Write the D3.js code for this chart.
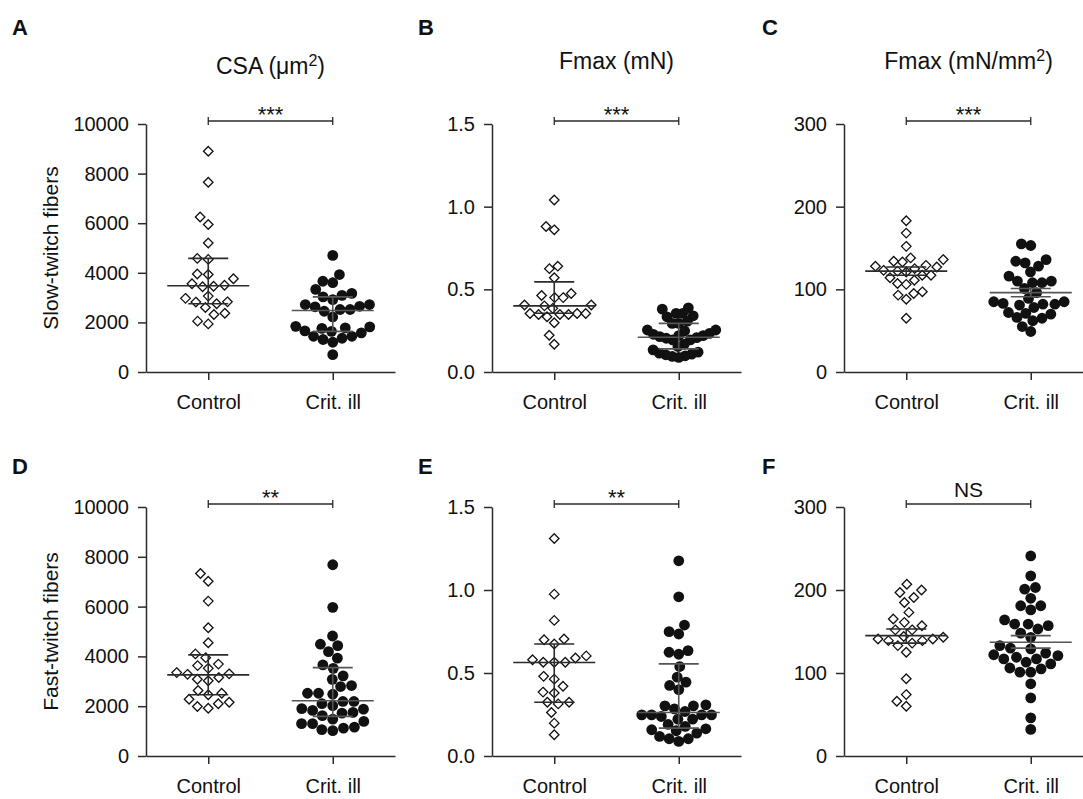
<!DOCTYPE html>
<html>
<head>
<meta charset="utf-8">
<script src="https://cdn.jsdelivr.net/npm/d3@7"></script>
<style>
  body { margin: 0; background: #fff; }
  text { font-family: "Liberation Sans", Arial, sans-serif; }
</style>
</head>
<body>
<script>
const width = 1083;
const height = 799;

const groups = ["Control", "Crit. ill"];

// A: slow-twitch CSA (um2)
const slowCsaControl = [8900, 7650, 6250, 5950, 5200, 4580, 4540, 3950, 3930, 3760, 3500, 3440, 3460, 3560,
  3060, 2970, 2830, 2750, 2820, 2600, 2370, 2320, 2050, 1940];
const slowCsaCrit = [4700, 3930, 3600, 3660, 3330, 3170, 3030, 2920, 3090, 2720, 2630, 2520, 2450, 2520, 2650,
  2720, 2220, 1820, 1760, 1660, 1580, 1440, 1360, 1310, 1200, 1440, 1640, 1780, 1840, 700];
const slowCsaCenter = [3480, 2480];
const slowCsaLow = [2750, 1640];
const slowCsaHigh = [4580, 3030];

// B: slow-twitch Fmax (mN)
const slowFmaxControl = [1.04, 0.86, 0.88, 0.625, 0.64, 0.57, 0.475, 0.45, 0.45, 0.463, 0.405, 0.40, 0.405, 0.385,
  0.354, 0.354, 0.348, 0.334, 0.348, 0.348, 0.354, 0.298, 0.222, 0.168];
const slowFmaxCrit = [0.355, 0.34, 0.388, 0.38, 0.334, 0.355, 0.308, 0.294, 0.294, 0.254, 0.254, 0.248,
  0.22, 0.214, 0.204, 0.194, 0.194, 0.208, 0.22, 0.228, 0.234, 0.168, 0.154,
  0.12, 0.108, 0.098, 0.088, 0.094, 0.104, 0.114, 0.134];
const slowFmaxCenter = [0.40, 0.21];
const slowFmaxLow = [0.355, 0.14];
const slowFmaxHigh = [0.545, 0.294];

// C: slow-twitch Fmax (mN/mm2)
const slowSpecControl = [183, 168, 152, 138, 134, 136, 133, 129, 127, 128, 122, 125, 121, 123, 117, 117, 114,
  111, 106, 107, 97, 95, 93, 88, 65];
const slowSpecCrit = [155, 153, 134, 128, 132, 136, 121, 116, 110, 108, 108, 110, 101, 96, 89,
  83, 82, 78, 85, 85, 81, 82, 71, 70, 72, 66, 65, 62, 55, 49];
const slowSpecCenter = [122, 96];
const slowSpecLow = [117, 91];
const slowSpecHigh = [127, 101];

// D: fast-twitch CSA (um2)
const fastCsaControl = [7330, 7020, 6220, 5150, 4550, 4100, 3950, 3630, 3690, 3520, 3350, 3150, 3280, 3300,
  3020, 3080, 2630, 2520, 2460, 2280, 2100, 2160, 1920, 1990];
const fastCsaCrit = [7680, 5970, 4820, 4430, 4490, 4190, 3930, 3660, 3520, 3220, 3080, 2830, 2790,
  2520, 2480, 2520, 2190, 2100, 2190, 1880, 1750, 1720, 1830, 2020, 1620, 1390, 1300, 1120, 1020, 1060,
  1160, 1300, 1900, 1480];
const fastCsaCenter = [3260, 2220];
const fastCsaLow = [2460, 1590];
const fastCsaHigh = [4060, 3550];

// E: fast-twitch Fmax (mN)
const fastFmaxControl = [1.31, 0.975, 0.817, 0.70, 0.705, 0.675, 0.603, 0.59, 0.565, 0.565, 0.58, 0.565,
  0.48, 0.463, 0.42, 0.38, 0.385, 0.324, 0.314, 0.324, 0.262, 0.198, 0.128];
const fastFmaxCrit = [1.176, 0.959, 0.789, 0.735, 0.749, 0.625, 0.635, 0.613, 0.539, 0.475, 0.445, 0.425, 0.40,
  0.308, 0.302, 0.302, 0.284, 0.248, 0.222, 0.248, 0.268, 0.248, 0.222, 0.238, 0.248,
  0.158, 0.138, 0.104, 0.088, 0.104, 0.118, 0.152, 0.164, 0.178, 0.19];
const fastFmaxCenter = [0.563, 0.262];
const fastFmaxLow = [0.324, 0.168];
const fastFmaxHigh = [0.675, 0.555];

// F: fast-twitch Fmax (mN/mm2)
const fastSpecControl = [207, 197, 200, 185, 191, 173, 161, 165, 152, 152, 157, 141, 139, 136, 144, 139, 141, 143,
  133, 125, 93, 74, 66, 60];
const fastSpecCrit = [241, 217, 203, 201, 190, 181, 181, 176, 164, 159, 157, 159, 153, 148, 143, 133, 130, 129,
  122, 121, 124, 119, 117, 113, 117, 111, 105, 101, 101, 106, 87, 70, 46, 32];
const fastSpecCenter = [145, 137];
const fastSpecLow = [136, 130];
const fastSpecHigh = [153, 145];

const csaTicks = [0, 2000, 4000, 6000, 8000, 10000];
const fmaxTicks = [0, 0.5, 1.0, 1.5];
const specTicks = [0, 100, 200, 300];

const panels = [
  { letter: "A", col: 0, row: 0, data: [slowCsaControl, slowCsaCrit], center: slowCsaCenter, low: slowCsaLow, high: slowCsaHigh,
    ticks: csaTicks, fmt: d3.format("d"), sig: "***", title: ["CSA (μm", "2", ")"], ylabel: "Slow-twitch fibers" },
  { letter: "B", col: 1, row: 0, data: [slowFmaxControl, slowFmaxCrit], center: slowFmaxCenter, low: slowFmaxLow, high: slowFmaxHigh,
    ticks: fmaxTicks, fmt: d3.format(".1f"), sig: "***", title: ["Fmax (mN)"] },
  { letter: "C", col: 2, row: 0, data: [slowSpecControl, slowSpecCrit], center: slowSpecCenter, low: slowSpecLow, high: slowSpecHigh,
    ticks: specTicks, fmt: d3.format("d"), sig: "***", title: ["Fmax (mN/mm", "2", ")"] },
  { letter: "D", col: 0, row: 1, data: [fastCsaControl, fastCsaCrit], center: fastCsaCenter, low: fastCsaLow, high: fastCsaHigh,
    ticks: csaTicks, fmt: d3.format("d"), sig: "**", ylabel: "Fast-twitch fibers" },
  { letter: "E", col: 1, row: 1, data: [fastFmaxControl, fastFmaxCrit], center: fastFmaxCenter, low: fastFmaxLow, high: fastFmaxHigh,
    ticks: fmaxTicks, fmt: d3.format(".1f"), sig: "**" },
  { letter: "F", col: 2, row: 1, data: [fastSpecControl, fastSpecCrit], center: fastSpecCenter, low: fastSpecLow, high: fastSpecHigh,
    ticks: specTicks, fmt: d3.format("d"), sig: "NS" },
];

const colLeft = [146, 492, 844];
const colLetter = [12, 418, 762];
const rowTop = [124, 507];
const rowBottom = [372, 756];
const axisLen = 249;
const ink = "#2b2b2b";
const dotD = 11;
const maxHalf = 37;

const svg = d3.select("body").append("svg")
  .attr("width", width)
  .attr("height", height);

// simple beeswarm: each point goes as close to the centre line as it can,
// then the whole cloud is squeezed if it gets wider than maxHalf
function swarm(values, y, d) {
  const placed = [];
  const out = new Array(values.length);
  const order = values.map((v, i) => i).sort((a, b) => d3.ascending(values[a], values[b]));
  order.forEach((i) => {
    const py = y(values[i]);
    const near = placed.filter((p) => Math.abs(p.y - py) < d);
    const cands = [0];
    near.forEach((p) => {
      const dx = Math.sqrt(d * d - (p.y - py) ** 2);
      cands.push(p.x + dx, p.x - dx);
    });
    cands.sort((a, b) => Math.abs(a) - Math.abs(b) || a - b);
    const x = cands.find((c) => near.every((p) => (p.x - c) ** 2 + (p.y - py) ** 2 >= d * d - 0.01));
    placed.push({ x: x, y: py });
    out[i] = x;
  });
  const w = d3.max(out, (v) => Math.abs(v));
  const k = w > maxHalf ? maxHalf / w : 1;
  return out.map((v) => v * k);
}

panels.forEach((p) => {
  const x0 = colLeft[p.col];
  const x = d3.scalePoint(groups, [x0, x0 + axisLen]).padding(0.5);
  const y = d3.scaleLinear([0, p.ticks[p.ticks.length - 1]], [rowBottom[p.row], rowTop[p.row]]);
  const g = svg.append("g");

  // panel letter
  g.append("text")
    .attr("x", colLetter[p.col])
    .attr("y", p.row === 0 ? 35 : 474)
    .attr("font-size", 22)
    .attr("font-weight", "bold")
    .attr("fill", "#111")
    .text(p.letter);

  // column title
  if (p.title) {
    const t = g.append("text")
      .attr("x", (x(groups[0]) + x(groups[1])) / 2)
      .attr("y", p.col === 0 ? 74 : 69)
      .attr("text-anchor", "middle")
      .attr("font-size", 23)
      .attr("fill", "#111");
    t.append("tspan").text(p.title[0]);
    if (p.title.length > 1) {
      t.append("tspan").attr("dy", -8).attr("font-size", 16).text(p.title[1]);
      t.append("tspan").attr("dy", 8).text(p.title[2]);
    }
  }

  // y label
  if (p.ylabel) {
    g.append("text")
      .attr("transform", `translate(58,${(rowTop[p.row] + rowBottom[p.row]) / 2}) rotate(-90)`)
      .attr("text-anchor", "middle")
      .attr("font-size", 21)
      .attr("fill", "#111")
      .text(p.ylabel);
  }

  // axes
  const yAxis = g.append("g")
    .attr("transform", `translate(${x0},0)`)
    .call(d3.axisLeft(y).tickValues(p.ticks).tickFormat(p.fmt).tickSize(8).tickSizeOuter(0).tickPadding(9));
  const xAxis = g.append("g")
    .attr("transform", `translate(0,${rowBottom[p.row]})`)
    .call(d3.axisBottom(x).tickSize(8).tickSizeOuter(0).tickPadding(15));
  [yAxis, xAxis].forEach((a) => {
    a.attr("font-family", null).attr("font-size", 20);
    a.selectAll("path, line").attr("stroke", ink).attr("stroke-width", 1.5);
    a.selectAll("text").attr("fill", "#111");
  });

  // significance bracket
  const by = rowTop[p.row] - 3;
  const bx1 = x(groups[0]);
  const bx2 = x(groups[1]);
  g.append("path")
    .attr("d", `M${bx1},${by - 4}V${by + 4}M${bx1},${by}H${bx2}M${bx2},${by - 4}V${by + 4}`)
    .attr("fill", "none")
    .attr("stroke", ink)
    .attr("stroke-width", 1.3);
  g.append("text")
    .attr("x", (bx1 + bx2) / 2)
    .attr("y", p.sig === "NS" ? by - 7 : by + 1)
    .attr("text-anchor", "middle")
    .attr("font-size", p.sig === "NS" ? 21 : 22)
    .attr("fill", "#111")
    .text(p.sig);

  // points
  p.data.forEach((vals, gi) => {
    const cx = x(groups[gi]);
    const offs = swarm(vals, y, dotD);
    const pts = g.append("g").selectAll("path")
      .data(vals)
      .join("path")
      .attr("transform", (d, i) => `translate(${cx + offs[i]},${y(d)})`);
    if (gi === 0) {
      pts.attr("d", d3.symbol(d3.symbolDiamond2, 58))
        .attr("fill", "#fff")
        .attr("stroke", "#111")
        .attr("stroke-width", 1.3);
    } else {
      pts.attr("d", d3.symbol(d3.symbolCircle, Math.PI * 5.4 * 5.4))
        .attr("fill", "#111");
    }

    // centre line with error bars
    const lx = cx;
    g.append("path")
      .attr("d", `M${lx - 41},${y(p.center[gi])}H${lx + 41}` +
        `M${lx - 20},${y(p.high[gi])}H${lx + 20}` +
        `M${lx - 20},${y(p.low[gi])}H${lx + 20}` +
        `M${lx},${y(p.high[gi])}V${y(p.low[gi])}`)
      .attr("fill", "none")
      .attr("stroke", gi === 0 ? ink : "#555")
      .attr("stroke-width", 1.6);
  });
});
</script>
</body>
</html>
